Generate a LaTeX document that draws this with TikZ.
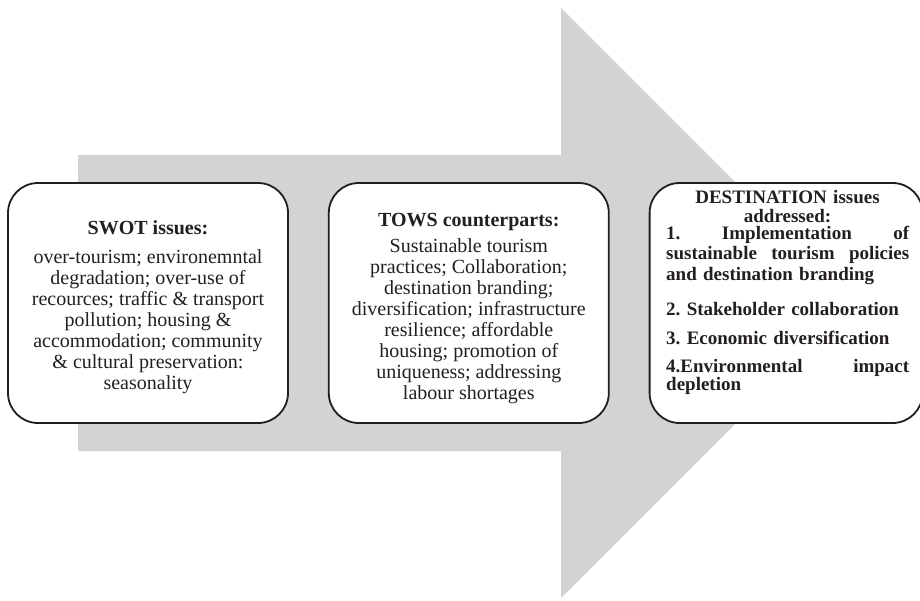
\documentclass[tikz,border=0pt]{standalone}
\usepackage{fontspec}
\setmainfont{Liberation Serif}
\usetikzlibrary{positioning}
\definecolor{arrowGrey}{RGB}{209,211,212}
\definecolor{inkDark}{RGB}{35,31,32}

\begin{document}
\begin{tikzpicture}[x=1pt,y=-1pt,
  stage/.style={draw=inkDark,line width=1.8pt,rounded corners=30pt,fill=white,minimum width=280pt,minimum height=240pt,align=center,text=inkDark,font=\fontsize{20}{21}\selectfont,inner sep=0pt},
  destline/.style={text width=243pt,align=left,inner sep=0pt,text=inkDark,font=\bfseries\frenchspacing\fontsize{19}{20.5}\selectfont}
]
  \useasboundingbox (0,0) rectangle (920,600);
  % big grey arrow behind the boxes
  \fill[arrowGrey] (78,155) -- (561,155) -- (561,8) -- (856,303) -- (561,598) -- (561,451) -- (78,451) -- cycle;

  \node[stage] (swot) at (148,303) {\rule{0pt}{22pt}\textbf{SWOT issues:}\\[8pt]
    over-tourism; environemntal\\degradation; over-use of\\recources; traffic \& transport\\pollution; housing \&\\accommodation; community\\\& cultural preservation:\\seasonality};
  \node[stage,right=39pt of swot] (tows) {\rule{0pt}{24pt}\textbf{TOWS counterparts:}\\[5pt]
    Sustainable tourism\\practices; Collaboration;\\destination branding;\\diversification; infrastructure\\resilience; affordable\\housing; promotion of\\uniqueness; addressing\\labour shortages};
  \node[stage,right=39pt of tows,minimum width=273pt] (dest) {};

  % text of the third box
  \node[destline,align=center,anchor=base] (destHead) at (787.5,203) {DESTINATION issues};
  \node[destline,align=center,anchor=base] (destSub) at (787.5,222) {addressed:};
  \node[destline,anchor=base west] (destOne) at (666,239) {%
    \makebox[\linewidth][s]{1.\hfill Implementation\hfill of}\\
    \makebox[\linewidth][s]{sustainable\hfill tourism\hfill policies}\\
    \makebox[\linewidth][l]{and destination branding}};
  \node[destline,anchor=base west] (destTwo) at (666,315) {2. Stakeholder collaboration};
  \node[destline,anchor=base west] (destThree) at (666,344) {3. Economic diversification};
  \node[destline,font=\bfseries\frenchspacing\fontsize{19}{17}\selectfont,anchor=base west] (destFour) at (666,372) {%
    \makebox[\linewidth][s]{4.Environmental\hfill impact}\\
    \makebox[\linewidth][l]{depletion}};
\end{tikzpicture}
\end{document}
